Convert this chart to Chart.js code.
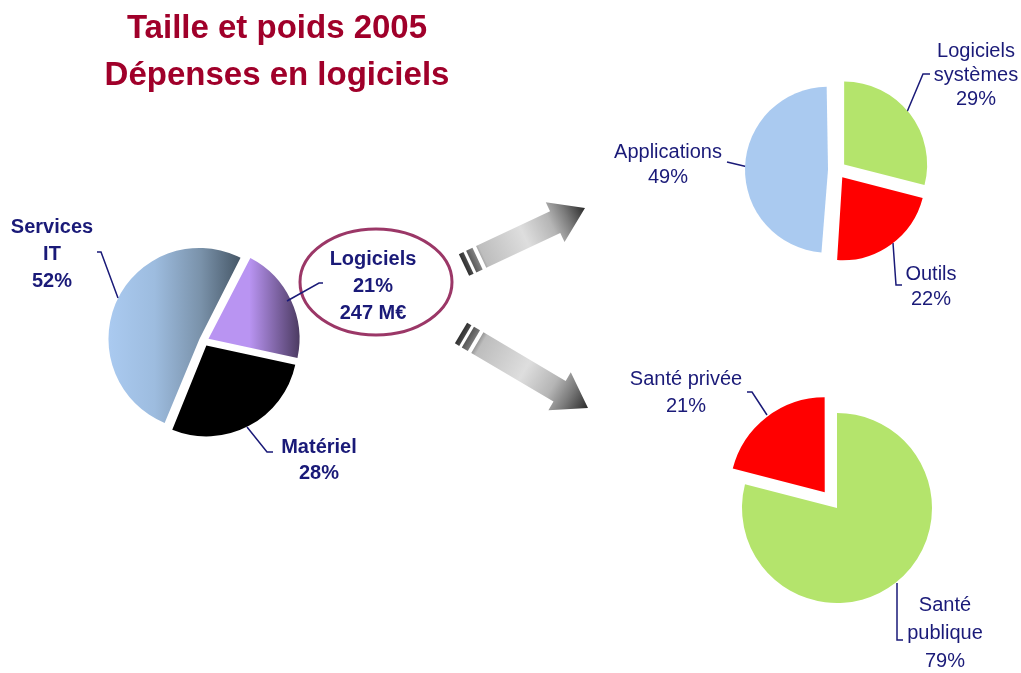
<!DOCTYPE html>
<html lang="fr">
<head>
<meta charset="UTF-8" />
<title>Taille et poids 2005</title>
<script src="https://cdn.jsdelivr.net/npm/chart.js@4.4.1/dist/chart.umd.min.js"></script>
<style>
  * { margin: 0; padding: 0; box-sizing: border-box; }
  body { background: #fff; font-family: "Liberation Sans", Arial, sans-serif; }
  .page { position: relative; width: 1021px; height: 673px; overflow: hidden; }
  .page canvas { position: absolute; left: 0; top: 0; }
  .title {
    position: absolute; left: 277px; top: 3px; transform: translateX(-50%);
    white-space: nowrap; text-align: center; color: #a0002a;
    font-weight: bold; font-size: 33px; line-height: 47px;
  }
  .lbl { position: absolute; transform: translateX(-50%); text-align: center; color: #1a1a78; font-size: 20px; }
  .lbl.bold { font-weight: bold; }
</style>
</head>
<body>
<div class="page" id="page">
  <canvas id="itPie" width="1021" height="673"></canvas>
  <canvas id="softPie" width="1021" height="673"></canvas>
  <canvas id="sectorPie" width="1021" height="673"></canvas>
  <div class="title">Taille et poids 2005<br />Dépenses en logiciels</div>
</div>
<script>
  const W = 1021, H = 673;

  // Dépenses IT par poste (%)
  const itCategories = ["Services IT", "Logiciels", "Matériel"];
  const itShares = [52, 21, 28];
  const softwareSpend = "247 M€";

  // Logiciels par type (%)
  const softCategories = ["Applications", "Logiciels systèmes", "Outils"];
  const softShares = [49, 29, 22];

  // Logiciels par secteur (%)
  const sectorCategories = ["Santé privée", "Santé publique"];
  const sectorShares = [21, 79];

  const navy = "#1a1a78";

  // chart.js grows the radius of wide exploded slices, undo that so all slices match
  const trueOffset = {
    id: "trueOffset",
    afterDatasetUpdate(chart, args) {
      args.meta.data.forEach((arc) => {
        const off = (arc.options.offset || 0) / 4;
        arc.outerRadius -= off * (1 - Math.sin(Math.min(Math.PI, arc.circumference)));
      });
    },
  };

  function drawArrow(ctx, a) {
    const dx = a.tip[0] - a.tail[0], dy = a.tip[1] - a.tail[1];
    const L = Math.hypot(dx, dy);
    const h = 12, hh = 22, head = 33;
    ctx.save();
    ctx.translate(a.tail[0], a.tail[1]);
    ctx.rotate(Math.atan2(dy, dx));
    const g = ctx.createLinearGradient(0, 0, L, 0);
    g.addColorStop(0, "#303030");
    g.addColorStop(0.11, "#808080");
    g.addColorStop(0.16, "#bdbdbd");
    g.addColorStop(0.5, "#dedede");
    g.addColorStop(0.72, "#b5b5b5");
    g.addColorStop(0.85, "#7a7a7a");
    g.addColorStop(1, "#2a2a2a");
    ctx.fillStyle = g;
    ctx.fillRect(0, -h, 5, 2 * h);
    ctx.fillRect(8, -h, 7, 2 * h);
    ctx.beginPath();
    ctx.moveTo(19, -h);
    ctx.lineTo(L - head, -h);
    ctx.lineTo(L - head, -hh);
    ctx.lineTo(L, 0);
    ctx.lineTo(L - head, hh);
    ctx.lineTo(L - head, h);
    ctx.lineTo(19, h);
    ctx.closePath();
    ctx.fill();
    ctx.restore();
  }

  const leaders = [
    [[97, 252], [101, 252], [118, 298]],
    [[323, 283], [319, 283], [287, 301]],
    [[247, 427], [267, 452], [273, 452]],
    [[907, 112], [923, 74], [930, 74]],
    [[727, 162], [748, 167]],
    [[893, 243], [896, 285], [902, 285]],
    [[747, 392], [752, 392], [767, 415]],
    [[897, 583], [897, 640], [903, 640]],
  ];

  const arrows = [
    { tail: [464, 265], tip: [585, 208] },
    { tail: [461, 333], tip: [588, 408] },
  ];

  const overlay = {
    id: "overlay",
    afterDraw(chart) {
      const ctx = chart.ctx;
      ctx.save();
      ctx.strokeStyle = "#9b3767";
      ctx.lineWidth = 3;
      ctx.beginPath();
      ctx.ellipse(376, 282, 76, 53, 0, 0, Math.PI * 2);
      ctx.stroke();
      ctx.strokeStyle = navy;
      ctx.lineWidth = 1.5;
      leaders.forEach((pts) => {
        ctx.beginPath();
        pts.forEach((p, i) => (i ? ctx.lineTo(p[0], p[1]) : ctx.moveTo(p[0], p[1])));
        ctx.stroke();
      });
      arrows.forEach((a) => drawArrow(ctx, a));
      ctx.restore();
    },
  };

  function makePie(id, cx, cy, r, labels, values, colors, offsets, rotation, extra) {
    const B = r + 30;
    return new Chart(document.getElementById(id), {
      type: "pie",
      data: {
        labels: labels,
        datasets: [{ data: values, backgroundColor: colors, offset: offsets, borderWidth: 0 }],
      },
      options: {
        responsive: false,
        animation: false,
        events: [],
        rotation: rotation,
        radius: r,
        layout: { padding: { left: cx - B, right: W - cx - B, top: cy - B, bottom: H - cy - B } },
        plugins: { legend: { display: false }, tooltip: { enabled: false } },
      },
      plugins: [trueOffset].concat(extra || []),
    });
  }

  // left pie: horizontal shading like the original
  const L_CX = 204, L_CY = 341, L_R = 91;
  function itColor(c) {
    const ctx = c.chart.ctx;
    if (c.dataIndex === 0) {
      const g = ctx.createLinearGradient(L_CX - L_R, 0, L_CX + 0.45 * L_R, 0);
      g.addColorStop(0, "#aacaf0");
      g.addColorStop(0.35, "#9dbcdf");
      g.addColorStop(0.7, "#7a92aa");
      g.addColorStop(1, "#465767");
      return g;
    }
    if (c.dataIndex === 1) {
      const g = ctx.createLinearGradient(L_CX + 0.45 * L_R, 0, L_CX + L_R, 0);
      g.addColorStop(0, "#b994f2");
      g.addColorStop(1, "#4c3b62");
      return g;
    }
    return "#000000";
  }

  makePie("itPie", L_CX, L_CY, L_R, itCategories, itShares, itColor, [20, 20, 20], 202, [overlay]);
  makePie("softPie", 837, 170, 83, softCategories, softShares,
    ["#aacaf0", "#b4e46c", "#ff0000"], [36, 36, 36], 183.6);
  makePie("sectorPie", 837, 508, 95, sectorCategories, sectorShares,
    ["#ff0000", "#b4e46c"], [80, 0], 284.4);

  // labels
  function addLabel(lines, cx, baseline, opts) {
    const fs = 20, lh = opts.lh;
    const d = document.createElement("div");
    d.className = "lbl" + (opts.bold ? " bold" : "");
    d.style.left = cx + "px";
    d.style.width = opts.width + "px";
    d.style.lineHeight = lh + "px";
    d.style.top = baseline - ((lh - 1.117 * fs) / 2 + 0.905 * fs) + "px";
    d.innerHTML = lines.join("<br>");
    document.getElementById("page").appendChild(d);
  }
  const pct = (v) => v + "%";

  addLabel([itCategories[0], pct(itShares[0])], 52, 233, { lh: 27, width: 92, bold: true });
  addLabel([itCategories[1], pct(itShares[1]), softwareSpend], 373, 265, { lh: 27, width: 120, bold: true });
  addLabel([itCategories[2], pct(itShares[2])], 319, 453, { lh: 26, width: 100, bold: true });

  addLabel([softCategories[0], pct(softShares[0])], 668, 158, { lh: 25, width: 140 });
  addLabel([softCategories[1], pct(softShares[1])], 976, 57, { lh: 24, width: 92 });
  addLabel([softCategories[2], pct(softShares[2])], 931, 280, { lh: 25, width: 92 });

  addLabel([sectorCategories[0], pct(sectorShares[0])], 686, 385, { lh: 27, width: 150 });
  addLabel([sectorCategories[1], pct(sectorShares[1])], 945, 611, { lh: 28, width: 92 });
</script>
</body>
</html>
